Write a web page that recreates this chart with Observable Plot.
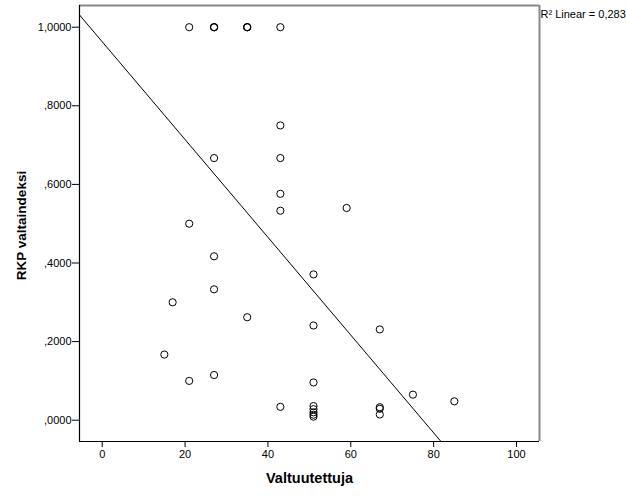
<!DOCTYPE html>
<html>
<head>
<meta charset="utf-8">
<script src="https://cdn.jsdelivr.net/npm/d3@7"></script>
<script src="https://cdn.jsdelivr.net/npm/@observablehq/plot@0.6"></script>
<style>
  html, body { margin: 0; padding: 0; background: #fff; }
</style>
</head>
<body>
<div id="chart"></div>
<script>
// Data (Valtuutettuja vs RKP valtaindeksi)
const seats = [21, 27, 27, 27, 35, 35, 35, 43,
  43, 27, 43, 43, 43, 21, 59, 27, 51, 27, 17, 35, 51, 15, 27, 21, 51, 43,
  51, 51, 51, 51, 51,
  67, 75, 85,
  67, 67, 67];
const power = [1, 1, 1, 1, 1, 1, 1, 1,
  0.75, 0.667, 0.667, 0.576, 0.533, 0.5, 0.54, 0.417, 0.371, 0.333, 0.3, 0.262, 0.241, 0.167, 0.115, 0.1, 0.096, 0.034,
  0.036, 0.028, 0.020, 0.014, 0.009,
  0.231, 0.065, 0.048,
  0.033, 0.029, 0.0145];

// Fit line coefficients as shown in the reference
const fitIntercept = 0.963;
const fitSlope = -0.01244;
const r2Label = "R² Linear = 0,283";

const xTicks = [0, 20, 40, 60, 80, 100];
const yTicks = [0, 0.2, 0.4, 0.6, 0.8, 1.0];
const xDomain = [-5.48, 105.55];
const yDomain = [-0.0542, 1.0552];

const xLabel = "Valtuutettuja";
const yLabel = "RKP valtaindeksi";

const points = seats.map((s, i) => ({x: s, y: power[i]}));
const fitLine = xDomain.map(x => ({x, y: fitIntercept + fitSlope * x}));

const fmtY = d => d3.format(".4f")(d).replace(".", ",").replace(/^0/, "");

const chart = Plot.plot({
  width: 626,
  height: 501,
  marginLeft: 79,
  marginRight: 87,
  marginTop: 5,
  marginBottom: 60,
  style: {fontFamily: "'Liberation Sans', Arial, sans-serif", fontSize: "11px", background: "#fff", color: "#000"},
  x: {domain: xDomain, label: null},
  y: {domain: yDomain, label: null},
  marks: [
    Plot.axisX({ticks: xTicks, tickSize: 6, tickPadding: 3, tickFormat: d => String(d), label: null, stroke: "#000"}),
    Plot.axisY({ticks: yTicks, tickSize: 7, tickPadding: 1, tickFormat: fmtY, label: null, stroke: "#000"}),
    Plot.ruleY([yDomain[1]], {stroke: "#888", strokeWidth: 2}),
    Plot.ruleX([xDomain[1]], {stroke: "#888", strokeWidth: 2}),
    Plot.ruleY([yDomain[0]], {stroke: "#000", strokeWidth: 1.2}),
    Plot.ruleX([xDomain[0]], {stroke: "#000", strokeWidth: 1.2}),
    Plot.line(fitLine, {x: "x", y: "y", stroke: "#000", strokeWidth: 1, clip: true}),
    Plot.dot(points, {x: "x", y: "y", r: 3.6, stroke: "#000", strokeWidth: 1, fill: "none"}),
    Plot.text([r2Label], {frameAnchor: "top-right", textAnchor: "start", lineAnchor: "top", dx: 1, dy: 4.5, fontSize: 11, fill: "#000"}),
    Plot.text([xLabel], {frameAnchor: "bottom", textAnchor: "middle", lineAnchor: "middle", dy: 37, fontSize: 14.5, fontWeight: "bold", fill: "#000"}),
    Plot.text([yLabel], {frameAnchor: "left", rotate: -90, textAnchor: "middle", lineAnchor: "middle", dx: -58, dy: 2, fontSize: 13.5, fontWeight: "bold", fill: "#000"})
  ]
});
document.getElementById("chart").appendChild(chart);
</script>
</body>
</html>
